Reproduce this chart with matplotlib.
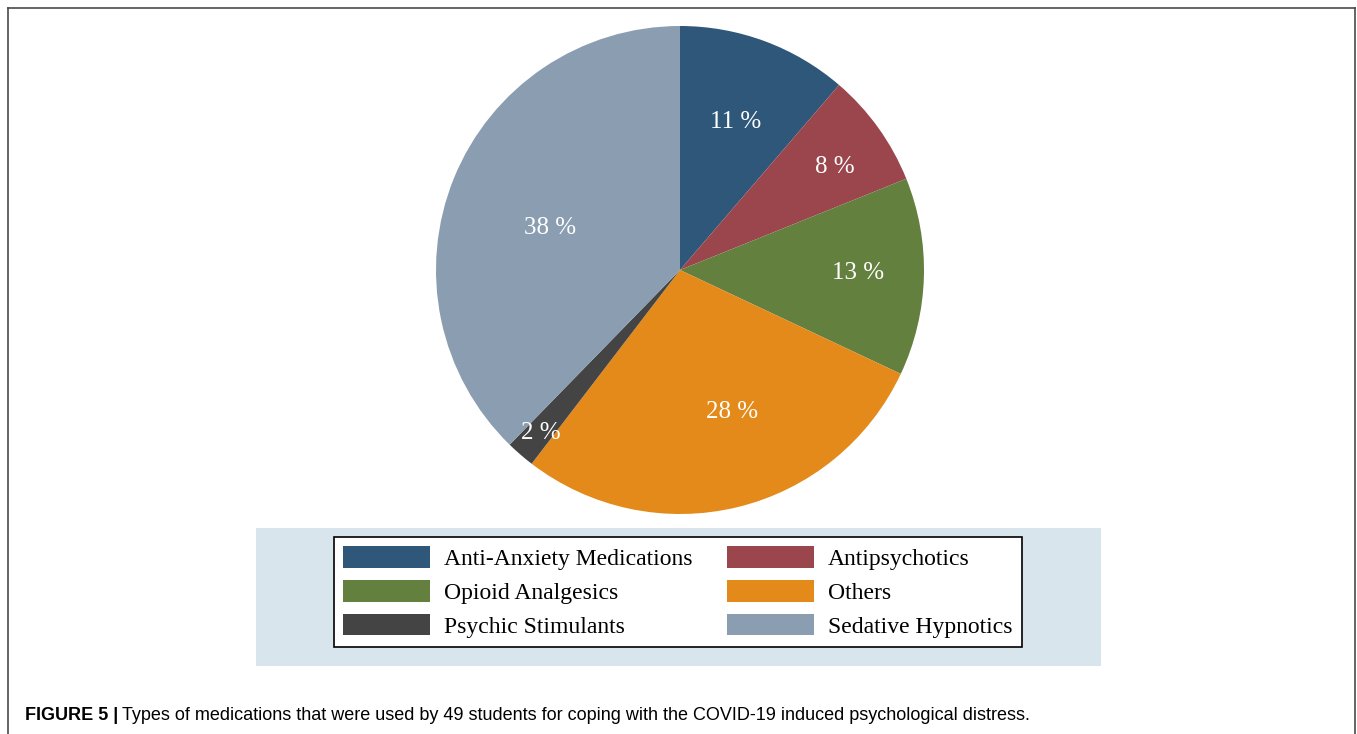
import matplotlib
matplotlib.use('Agg')
import matplotlib.pyplot as plt
from matplotlib.patches import Rectangle
import numpy as np

# medication shares (%)
categories = ['Anti-Anxiety Medications', 'Antipsychotics', 'Opioid Analgesics',
              'Others', 'Psychic Stimulants', 'Sedative Hypnotics']
shares = [11.3, 7.6, 13.1, 28.4, 1.9, 37.7]
colors = ['#2f5779', '#9a464c', '#64803f', '#e48a1a', '#444444', '#8a9db1']
# where the percent labels sit: fraction of radius, and angle shift from wedge middle
label_radius = [0.66, 0.77, 0.73, 0.61, 0.87, 0.565]
label_shift = [0.0, -1.3, 1.5, 6.7, 0.0, 3.2]
caption_bold = 'FIGURE 5 |'
caption = 'Types of medications that were used by 49 students for coping with the COVID-19 induced psychological distress.'

W, H = 1357, 734
fig = plt.figure(figsize=(W / 100, H / 100), dpi=100)
serif = ['Liberation Serif', 'DejaVu Serif']
sans = ['Liberation Sans', 'DejaVu Sans']

# outer frame (open at the bottom)
edge = '#4a4a4a'
fig.add_artist(plt.Line2D([8 / W, 8 / W], [0, 1 - 8 / H], color=edge, lw=1.2))
fig.add_artist(plt.Line2D([8 / W, 1355 / W], [1 - 8 / H, 1 - 8 / H], color=edge, lw=1.2))
fig.add_artist(plt.Line2D([1355 / W, 1355 / W], [0, 1 - 8 / H], color=edge, lw=1.2))

# light blue legend panel
fig.add_artist(Rectangle((256 / W, 1 - 666 / H), (1101 - 256) / W, (666 - 528) / H,
                         transform=fig.transFigure, facecolor='#d9e5ec',
                         edgecolor='none', zorder=0))

cx, cy, r = 680, 270, 244
ax = fig.add_axes([(cx - r) / W, (H - cy - r) / H, 2 * r / W, 2 * r / H])
wedges, texts = ax.pie(shares, colors=colors, startangle=90, counterclock=False,
                       radius=1, wedgeprops=dict(linewidth=0))
ax.set_xlim(-1, 1)
ax.set_ylim(-1, 1)
ax.set_aspect('equal')
ax.axis('off')

for w, val, rad, sh in zip(wedges, shares, label_radius, label_shift):
    ang = np.deg2rad((w.theta1 + w.theta2) / 2 + sh)
    ax.text(rad * np.cos(ang), rad * np.sin(ang), '%.0f %%' % val,
            ha='center', va='center_baseline', color='white', fontsize=18,
            family=serif)

order = [0, 2, 4, 1, 3, 5]
leg = fig.legend([wedges[i] for i in order], [categories[i] for i in order],
                 ncol=2, loc='upper left', bbox_to_anchor=(334 / W, 1 - 537 / H),
                 prop={'family': serif, 'size': 17}, frameon=True, fancybox=False,
                 edgecolor='black', framealpha=1, borderpad=0.4,
                 handlelength=3.68, handleheight=1.02, handletextpad=0.59,
                 columnspacing=1.45, labelspacing=0.42, borderaxespad=0)
leg.get_frame().set_linewidth(1.2)

t1 = fig.text(25 / W, 1 - 716 / H, caption_bold, fontsize=13, fontweight='bold',
              family=sans, va='center', ha='left')
fig.canvas.draw()
bb = t1.get_window_extent()
fig.text((bb.x1 + 4) / W, 1 - 716 / H, caption, fontsize=13,
         family=sans, va='center', ha='left')

fig.savefig('out.png', dpi=100, facecolor='white')
